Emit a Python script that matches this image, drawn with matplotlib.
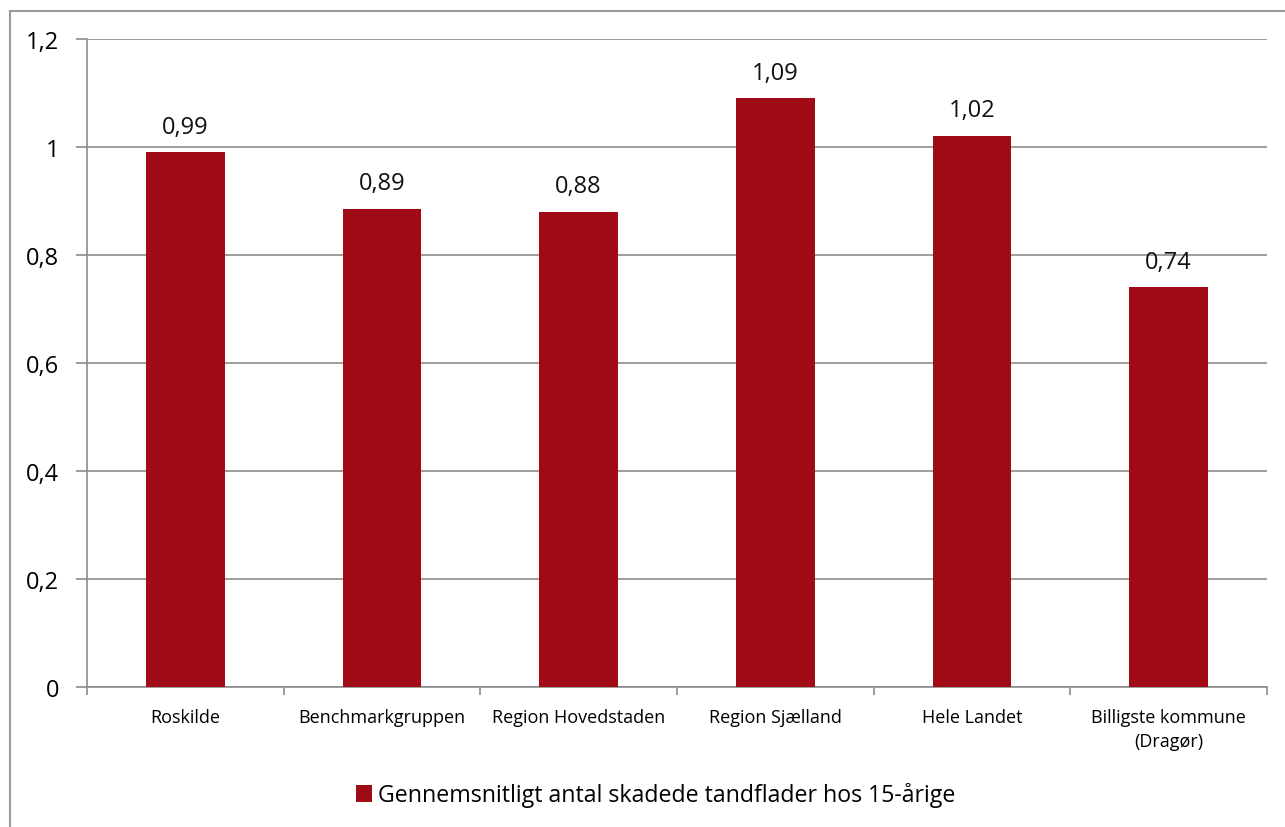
import matplotlib
matplotlib.use("Agg")
import matplotlib.pyplot as plt
from matplotlib.lines import Line2D
from matplotlib.patches import Patch
import numpy as np

categories = ["Roskilde", "Benchmarkgruppen", "Region Hovedstaden", "Region Sjælland",
              "Hele Landet", "Billigste kommune\n(Dragør)"]
values = [0.99, 0.886, 0.88, 1.09, 1.02, 0.74]
labels = ["0,99", "0,89", "0,88", "1,09", "1,02", "0,74"]
yticks = [0, 0.2, 0.4, 0.6, 0.8, 1.0, 1.2]
ytick_labels = ["0", "0,2", "0,4", "0,6", "0,8", "1", "1,2"]
series_name = "Gennemsnitligt antal skadede tandflader hos 15-årige"

plt.rcParams['font.family'] = ['Open Sans', 'DejaVu Sans']
color = "#A00B16"
grid = "#8C8C8C"

fig = plt.figure(figsize=(12.85, 8.28), dpi=100)
W, H = 1285, 828
ax = fig.add_axes([87 / W, (H - 688) / H, (1267 - 87) / W, (688 - 40) / H])

x = np.arange(len(categories))
ax.bar(x, values, width=0.4, color=color, zorder=3)
for xi, v, lab in zip(x, values, labels):
    ax.annotate(lab, (xi, v), xytext=(0, 10), textcoords="offset points",
                ha="center", va="bottom", fontsize=17, color="#111111")

ax.set_xlim(-0.5, len(categories) - 0.5)
ax.set_ylim(0, 1.2)
ax.set_yticks(yticks)
ax.set_yticklabels(ytick_labels, fontsize=17)
ax.yaxis.grid(True, color=grid, linewidth=1.2, zorder=0)
ax.set_xticks(x)
ax.set_xticklabels(categories, fontsize=13, linespacing=1.45)
ax.set_xticks(np.arange(-0.5, len(categories)), minor=True)
ax.tick_params(axis="x", which="major", length=0, pad=15)
ax.tick_params(axis="x", which="minor", length=6, color=grid, width=1.2)
ax.tick_params(axis="y", length=8, color=grid, width=1.2, pad=12)
for s in ["top", "right"]:
    ax.spines[s].set_visible(False)
for s in ["left", "bottom"]:
    ax.spines[s].set_color(grid)
    ax.spines[s].set_linewidth(1.2)

handles = [Patch(facecolor=color, edgecolor="none")]
fig.legend(handles, [series_name], loc="center", bbox_to_anchor=(0.51, (H - 796) / H),
           frameon=False, fontsize=16.7, handlelength=0.7, handleheight=0.8, handletextpad=0.25)

# outer chart border (left and top visible)
fig.add_artist(Line2D([10 / W, 10 / W], [0, (H - 12) / H], color="#9a9a9a", lw=1.5,
                      transform=fig.transFigure))
fig.add_artist(Line2D([10 / W, 1], [(H - 12) / H, (H - 12) / H], color="#9a9a9a", lw=1.5,
                      transform=fig.transFigure))

fig.savefig("out.png", dpi=100)
